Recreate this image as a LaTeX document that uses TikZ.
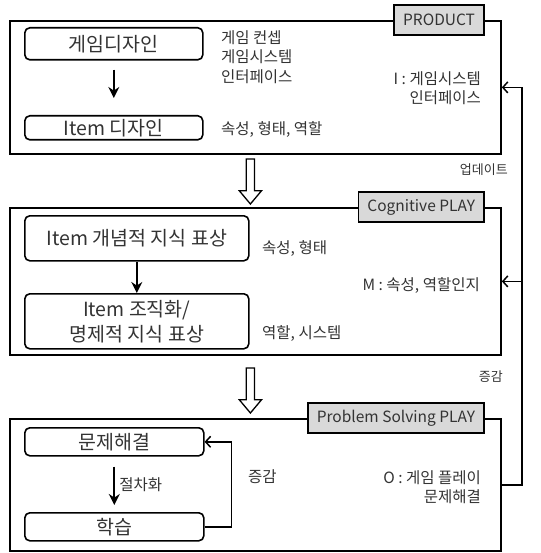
\documentclass[tikz,border=0pt]{standalone}
\usepackage{fontspec}
\setmainfont{Noto Sans CJK KR}
\usetikzlibrary{arrows.meta, positioning, shapes.arrows}
\tikzset{
  frame/.style={
    draw,
    rectangle,
    line width=1.8pt,
    inner sep=0pt,
    anchor=north west
  },
  tag/.style={
    draw,
    rectangle,
    line width=1.6pt,
    fill=black!15,
    minimum height=30pt,
    inner xsep=9pt,
    anchor=east,
    text=black!80,
    font=\fontsize{15.5}{17}\selectfont
  },
  state/.style={
    draw,
    rectangle,
    rounded corners=5pt,
    line width=1.6pt,
    inner sep=0pt,
    anchor=north west,
    align=center,
    text=black!80,
    font=\fontsize{19.5}{25}\selectfont
  },
  note/.style={
    inner sep=0pt,
    text=black!80,
    font=\fontsize{15.5}{19.5}\selectfont
  },
  small/.style={
    note,
    font=\fontsize{13}{15}\selectfont
  },
  arrow/.style={
    -{Stealth[length=11pt, width=11pt]},
    line width=2pt
  },
  back/.style={
    -{Straight Barb[length=5pt, width=11pt]},
    line width=1.5pt
  },
  hollow/.style={
    single arrow,
    draw,
    line width=1.3pt,
    rotate=-90,
    inner xsep=0pt,
    inner ysep=3.5pt,
    single arrow head extend=7pt,
    single arrow tip angle=80,
    minimum height=45pt,
    anchor=tip
  }
}
\begin{document}
\begin{tikzpicture}[x=1pt, y=-1pt]
  \useasboundingbox (0,0) rectangle (540,553);

  % Cadres
  \node[frame, minimum width=491pt, minimum height=133pt] (product) at (9,20) {};
  \node[frame, minimum width=491pt, minimum height=147pt] (cognitive) at (9,207) {};
  \node[frame, minimum width=491pt, minimum height=132pt] (problem) at (9,418) {};

  \node[tag] (producttag) at ([xshift=-17pt]product.north east) {PRODUCT};
  \node[tag] (cognitivetag) at ([xshift=-17pt]cognitive.north east) {Cognitive PLAY};
  \node[tag] (problemtag) at ([xshift=-17pt]problem.north east) {Problem Solving PLAY};

  % Etats
  \node[state, minimum width=178pt, minimum height=32pt] (gamedesign) at (24,27) {게임디자인};
  \node[state, minimum width=178pt, minimum height=24pt] (itemdesign) at (24,115) {Item 디자인};
  \node[state, minimum width=224pt, minimum height=45pt] (concept) at (24,215) {Item 개념적 지식 표상};
  \node[state, minimum width=224pt, minimum height=55pt] (organize) at (24,293) {Item 조직화/\\명제적 지식 표상};
  \node[state, minimum width=179pt, minimum height=28pt] (solve) at (24,427) {문제해결};
  \node[state, minimum width=179pt, minimum height=28pt] (learn) at (24,512) {학습};

  % Notes
  \node[note, anchor=west, align=left] (gamenote) at (221,57) {게임 컨셉\\게임시스템\\인터페이스};
  \node[note, anchor=west] (itemnote) at (221,129) {속성, 형태, 역할};
  \node[note, anchor=east, align=right] (inote) at (481,88) {I : 게임시스템\\인터페이스};
  \node[note, anchor=west] (conceptnote) at (262,248) {속성, 형태};
  \node[note, anchor=east] (mnote) at (480,285) {M : 속성, 역할인지};
  \node[note, anchor=west] (organizenote) at (262,333) {역할, 시스템};
  \node[note, anchor=west] (loopnote) at (248,477) {증감};
  \node[note, anchor=east, align=right] (onote) at (481,487) {O : 게임 플레이\\문제해결};
  \node[small, anchor=east] (updatenote) at (508,170) {업데이트};
  \node[small, anchor=east] (changenote) at (503,377) {증감};

  % Flèches
  \draw[arrow, shorten <=9pt, shorten >=17pt] (gamedesign) -- (itemdesign);
  \draw[arrow] (concept) -- (organize);
  \draw[arrow, shorten <=10pt, shorten >=7pt] (solve) -- (learn)
    node[note, midway, right=4pt] (stepnote) {절차화};
  \draw[back] (learn.east) -- ++(27,0) |- (solve.east);

  \node[hollow] (down1) at ([xshift=-5pt, yshift=2pt]cognitive.north) {};
  \node[hollow] (down2) at ([xshift=-5pt, yshift=4pt]problem.north) {};

  % Retour
  \draw[back] (problem.east) -- ++(20,0) coordinate (fb) |- (product.east);
  \draw[back] (fb) |- (cognitive.east);
\end{tikzpicture}
\end{document}
